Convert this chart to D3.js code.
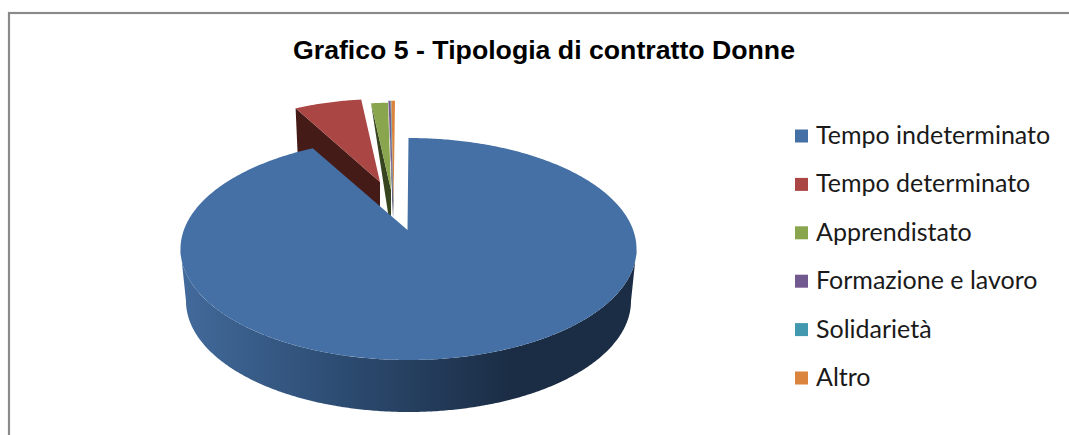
<!DOCTYPE html>
<html>
<head>
<meta charset="utf-8">
<style>
  html, body { margin: 0; padding: 0; background: #fff; }
  svg { display: block; }
</style>
<script src="https://cdn.jsdelivr.net/npm/d3@7"></script>
</head>
<body>
<svg id="chart" width="1069" height="435"></svg>
<script>
// Contract types for women, share of the total (%)
const categories = ["Tempo indeterminato", "Tempo determinato", "Apprendistato", "Formazione e lavoro", "Solidarietà", "Altro"];
const shares = [93.1, 5.3, 1.15, 0.15, 0.05, 0.25];
const colours = ["#4470a6", "#aa4643", "#89a54e", "#71588f", "#4198af", "#db843d"];
const wallColours = ["#1b2d45", "#451b18", "#36441f", "#2b2a55", "#3a4a55", "#77706a"];
const chartTitle = "Grafico 5 - Tipologia di contratto Donne";

// Where each exploded slice lands in the tilted view: ellipse centre, scale, inner corner
const sliceCentres = [[408.5, 249], [381.8, 199], [394.6, 217], [395, 215], [395, 215], [395, 215]];
const sliceScales = [1, 0.9, 1.03, 1.03, 1.03, 1.03];
const sliceCorners = [[407.5, 230], [380, 182], [391, 190], [393, 200], [393.3, 200], [393.6, 200]];
const wallDepths = [0, 45, 26, 17, 17, 17];
const wallFootShift = [0, 0, -2.5, 0, 0, 0];
const topRadius = { x: 228, y: 111 };
const bottomRadius = { x: 222.5, y: 111 };
const bottomCentreDrop = 52;

const svg = d3.select("#chart");

// Chart frame, running off the right and bottom of the page
svg.append("rect")
  .attr("x", 9).attr("y", 13).attr("width", 1200).attr("height", 600)
  .attr("fill", "#fff").attr("stroke", "#8a8a8a").attr("stroke-width", 2.2);

svg.append("text")
  .attr("x", 293).attr("y", 59)
  .attr("textLength", 502).attr("lengthAdjust", "spacingAndGlyphs")
  .attr("font-family", "'Liberation Sans', Arial, sans-serif")
  .attr("font-weight", 700).attr("font-size", 25)
  .attr("fill", "#000")
  .text(chartTitle);

const colour = d3.scaleOrdinal().domain(categories).range(colours);
const wallColour = d3.scaleOrdinal().domain(categories).range(wallColours);

const arcs = d3.pie().sort(null).value((d, i) => shares[i])(categories);

const line = d3.line();

function rimPoint(i, angle) {
  const [cx, cy] = sliceCentres[i], s = sliceScales[i];
  return [cx + s * topRadius.x * Math.sin(angle), cy - s * topRadius.y * Math.cos(angle)];
}
function sampleAngles(a0, a1) {
  const n = Math.max(2, Math.ceil(Math.abs(a1 - a0) / 0.01));
  return d3.range(n + 1).map(k => a0 + (a1 - a0) * k / n);
}

// Gradient along the rim of the largest slice
const defs = svg.append("defs");
const rimGradient = defs.append("linearGradient")
  .attr("id", "rimShade").attr("gradientUnits", "userSpaceOnUse")
  .attr("x1", 181).attr("x2", 510).attr("y1", 0).attr("y2", 0);
rimGradient.append("stop").attr("offset", 0).attr("stop-color", "#426a9b");
rimGradient.append("stop").attr("offset", 0.45).attr("stop-color", "#2e4e75");
rimGradient.append("stop").attr("offset", 1).attr("stop-color", "#1b2d45");

// Small slices first, so the large one overlaps their inner corners
const drawOrder = d3.range(1, arcs.length).concat(0);

drawOrder.forEach(i => {
  const d = arcs[i], A = sliceCorners[i];
  const g = svg.append("g").attr("class", "slice");

  if (i === 0) {
    const [cx, cy] = sliceCentres[0];
    const front = sampleAngles(Math.PI / 2, 3 * Math.PI / 2);
    const upper = front.map(a => rimPoint(0, a));
    const lower = front.slice().reverse().map(a => [
      cx + bottomRadius.x * Math.sin(a),
      cy + bottomCentreDrop - bottomRadius.y * Math.cos(a)
    ]);
    g.append("path").attr("d", line(upper.concat(lower)) + "Z").attr("fill", "url(#rimShade)");
  } else {
    // Cut face on the leading edge, dropping below the top surface
    const P = rimPoint(i, d.startAngle);
    const outerDrop = i === 1 ? wallDepths[i] : 0;
    g.append("path")
      .attr("d", line([
        P, A,
        [A[0], A[1] + wallDepths[i]],
        [A[0] + wallFootShift[i], A[1] + wallDepths[i]],
        [P[0] + (i === 1 ? 2 : 0), P[1] + outerDrop]
      ]) + "Z")
      .attr("fill", wallColour(categories[i]));
  }

  const rim = sampleAngles(d.startAngle, d.endAngle).map(a => rimPoint(i, a));
  g.append("path")
    .attr("d", line([A].concat(rim)) + "Z")
    .attr("fill", colour(categories[i]));
});

// Legend
const legendY = d3.scalePoint().domain(categories).range([136, 378]);
const legend = svg.selectAll("g.legend").data(categories).join("g")
  .attr("class", "legend")
  .attr("transform", d => `translate(0,${legendY(d)})`);
legend.append("rect")
  .attr("x", 795).attr("y", -6.5).attr("width", 13).attr("height", 13)
  .attr("fill", d => colour(d));
legend.append("text")
  .attr("x", 816).attr("y", 8)
  .attr("font-family", "Lato, sans-serif")
  .attr("font-size", 25).attr("fill", "#1a1a1a")
  .text(d => d);
</script>
</body>
</html>
